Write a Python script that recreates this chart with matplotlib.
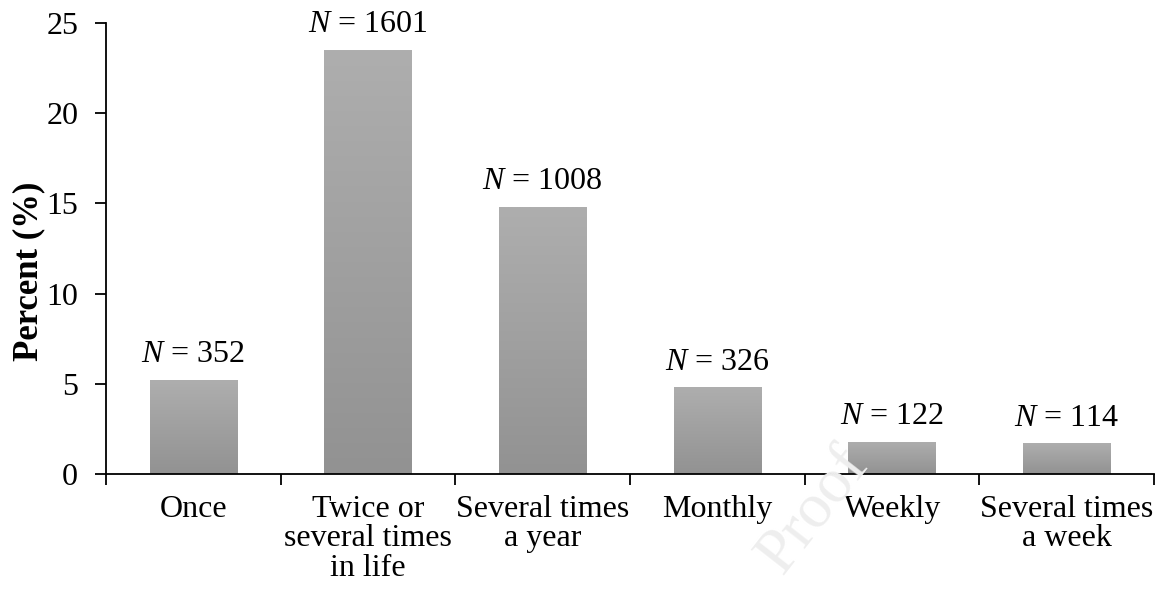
import matplotlib
matplotlib.use('Agg')
import matplotlib.pyplot as plt
import numpy as np
from matplotlib.colors import LinearSegmentedColormap

plt.rcParams['font.family'] = 'Liberation Serif'
plt.rcParams['mathtext.fontset'] = 'custom'
plt.rcParams['mathtext.rm'] = 'Liberation Serif'
plt.rcParams['mathtext.it'] = 'Liberation Serif:italic'

categories = ['Once', 'Twice or\nseveral times\nin life', 'Several times\na year',
              'Monthly', 'Weekly', 'Several times\na week']
percent = [5.2, 23.5, 14.8, 4.8, 1.8, 1.7]
counts = [352, 1601, 1008, 326, 122, 114]

fig = plt.figure(figsize=(11.62, 6.01), dpi=100)
ax = fig.add_axes([0.0912, 0.2113, 0.902, 0.7504])

x = np.arange(len(categories))
bars = ax.bar(x, percent, width=0.5, color='none', edgecolor='none')

# vertical grey gradient, lighter at top
cmap = LinearSegmentedColormap.from_list('g', ['#929292', '#aeaeae'])
grad = np.linspace(0, 1, 256).reshape(-1, 1)
for b in bars:
    bx, by = b.get_x(), b.get_y()
    bw, bh = b.get_width(), b.get_height()
    im = ax.imshow(grad, extent=[bx, bx + bw, by, by + bh], origin='lower',
                   cmap=cmap, aspect='auto', zorder=2)
    im.set_clip_path(b)

for xi, p, n in zip(x, percent, counts):
    ax.text(xi, p + 0.6, r'$N$ = %d' % n, ha='center', va='bottom', fontsize=23)

ax.set_xlim(-0.5, len(categories) - 0.5)
ax.set_ylim(0, 25)
ax.set_yticks(np.arange(0, 26, 5))
ax.set_xticks(np.arange(-0.5, len(categories), 1))
ax.set_xticklabels([])
ax.set_xticks(x, minor=True)
ax.set_xticklabels(categories, minor=True, fontsize=23, linespacing=1.02)
ax.tick_params(axis='x', which='minor', length=0, pad=15)
ax.tick_params(axis='x', which='major', direction='out', length=8, width=1.3)
ax.tick_params(axis='y', direction='out', length=8, width=1.3, labelsize=23, pad=12)

for s in ['top', 'right']:
    ax.spines[s].set_visible(False)
for s in ['left', 'bottom']:
    ax.spines[s].set_linewidth(1.3)

ax.set_ylabel('Percent (%)', fontsize=25, fontweight='bold')
ax.yaxis.set_label_coords(-0.058, 0.45)

# faint watermark
fig.text(0.70, 0.15, 'Proof', fontsize=46, color='#eeeeee', rotation=52,
         ha='center', va='center', zorder=0)

fig.savefig('out.png', dpi=100)
